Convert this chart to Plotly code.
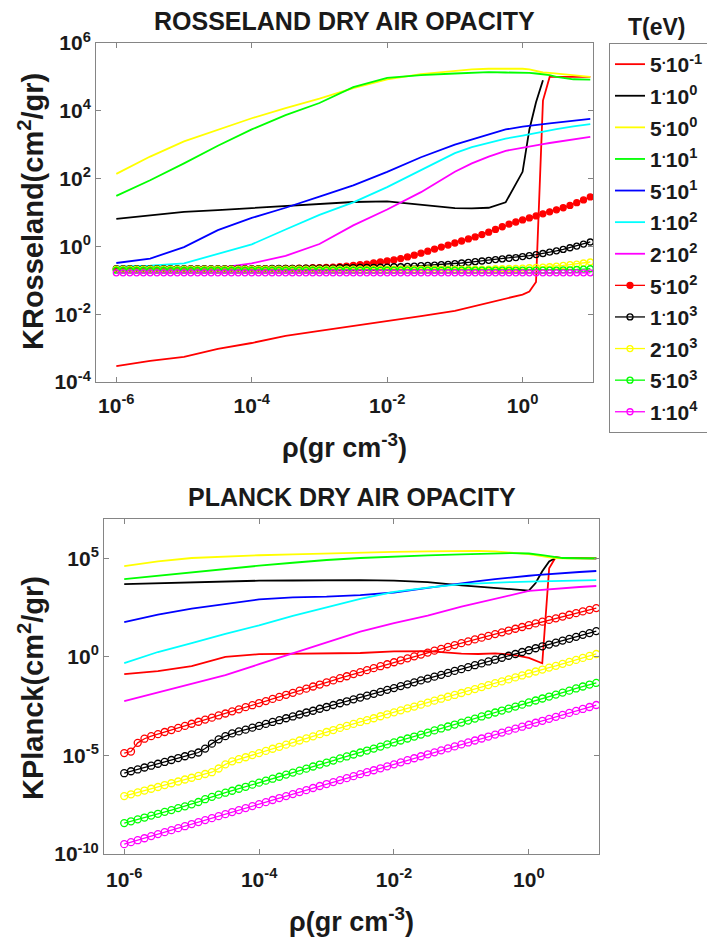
import numpy as np
import plotly.graph_objects as go

# ---------------------------------------------------------------------------
# Density grids (g/cm^3)
# ---------------------------------------------------------------------------
rho = np.logspace(-6, 1, 71)          # tabulated grid used for the high-T series
rho_line = [1e-6, 3.16e-6, 1e-5, 3.16e-5, 1e-4, 3.16e-4, 1e-3, 3.16e-3,
            1e-2, 3.16e-2, 0.1, 0.178, 0.316, 0.562, 1.0, 1.26, 1.58,
            2.0, 2.51, 3.16, 5.62, 10.0]

# Temperature labels, colours
temps_line = ["5<sup>.</sup>10<sup>-1</sup>", "1<sup>.</sup>10<sup>0</sup>",
              "5<sup>.</sup>10<sup>0</sup>", "1<sup>.</sup>10<sup>1</sup>",
              "5<sup>.</sup>10<sup>1</sup>", "1<sup>.</sup>10<sup>2</sup>",
              "2<sup>.</sup>10<sup>2</sup>"]
temps_mark = ["5<sup>.</sup>10<sup>2</sup>", "1<sup>.</sup>10<sup>3</sup>",
              "2<sup>.</sup>10<sup>3</sup>", "5<sup>.</sup>10<sup>3</sup>",
              "1<sup>.</sup>10<sup>4</sup>"]
colors_line = ["#ff0000", "#000000", "#ffff00", "#00ff00", "#0000ff", "#00ffff", "#ff00ff"]
colors_mark = ["#ff0000", "#000000", "#ffff00", "#00ff00", "#ff00ff"]

# ---------------------------------------------------------------------------
# Rosseland mean opacity, log10(cm^2/g)
# ---------------------------------------------------------------------------
ross_0p5 = [-3.53, -3.38, -3.26, -3.02, -2.85, -2.64, -2.49, -2.35, -2.22, -2.06, -1.90,
            -1.78, -1.66, -1.53, -1.42, -1.33, -1.05, 4.30, 5.00, 5.00, 5.00, 5.00]
ross_1 = [0.81, 0.92, 1.02, 1.07, 1.13, 1.20, 1.26, 1.31, 1.33, 1.22, 1.13,
          1.12, 1.14, 1.30, 2.20, 3.45, 4.25, 4.90, None, None, None, None]
ross_5 = [2.14, 2.65, 3.10, 3.45, 3.78, 4.08, 4.36, 4.67, 4.93, 5.08, 5.18,
          5.22, 5.24, 5.25, 5.24, 5.22, 5.17, 5.13, 5.12, 5.10, 5.05, 5.00]
ross_10 = [1.49, 1.95, 2.45, 2.97, 3.45, 3.87, 4.23, 4.70, 4.97, 5.05, 5.10,
           5.12, 5.14, 5.13, 5.13, 5.12, 5.10, 5.08, 5.05, 5.00, 4.93, 4.92]
ross_50 = [-0.49, -0.36, -0.02, 0.48, 0.84, 1.14, 1.47, 1.80, 2.20, 2.63, 3.00,
           3.15, 3.30, 3.45, 3.53, 3.56, 3.59, 3.61, 3.63, 3.65, 3.71, 3.76]
ross_100 = [-0.60, -0.57, -0.50, -0.22, 0.06, 0.50, 0.93, 1.30, 1.75, 2.25, 2.75,
            2.93, 3.05, 3.18, 3.27, 3.31, 3.36, 3.40, 3.43, 3.46, 3.54, 3.61]
ross_200 = [-0.73, -0.72, -0.69, -0.64, -0.50, -0.28, 0.07, 0.62, 1.09, 1.60, 2.20,
            2.45, 2.65, 2.82, 2.92, 2.95, 2.99, 3.02, 3.05, 3.08, 3.16, 3.23]

ross_500 = [-0.68, -0.68, -0.68, -0.68, -0.68, -0.68, -0.68, -0.68, -0.68, -0.68, -0.68,
            -0.67, -0.67, -0.67, -0.67, -0.67, -0.67, -0.67, -0.67, -0.67, -0.67,
            -0.67, -0.66, -0.66, -0.66, -0.65, -0.65, -0.64, -0.64, -0.63, -0.63,
            -0.62, -0.61, -0.60, -0.58, -0.56, -0.54, -0.52, -0.49, -0.46, -0.43,
            -0.40, -0.36, -0.31, -0.26, -0.20, -0.14, -0.08, -0.02, 0.04, 0.10,
            0.16, 0.22, 0.28, 0.35, 0.42, 0.50, 0.58, 0.66, 0.72, 0.78,
            0.84, 0.90, 0.96, 1.02, 1.08, 1.14, 1.21, 1.29, 1.37, 1.46]
ross_1000 = [-0.66, -0.66, -0.66, -0.66, -0.66, -0.66, -0.66, -0.66, -0.66, -0.66, -0.66,
             -0.66, -0.66, -0.66, -0.66, -0.66, -0.66, -0.66, -0.66, -0.66, -0.66,
             -0.66, -0.66, -0.65, -0.65, -0.65, -0.65, -0.65, -0.64, -0.64, -0.64,
             -0.64, -0.64, -0.63, -0.63, -0.63, -0.62, -0.62, -0.62, -0.61, -0.61,
             -0.60, -0.60, -0.59, -0.58, -0.57, -0.56, -0.55, -0.54, -0.53, -0.51,
             -0.49, -0.47, -0.45, -0.43, -0.41, -0.39, -0.37, -0.35, -0.33, -0.30,
             -0.27, -0.24, -0.21, -0.17, -0.13, -0.09, -0.04, 0.01, 0.07, 0.13]
ross_2000 = [-0.67, -0.67, -0.67, -0.67, -0.67, -0.67, -0.67, -0.67, -0.67, -0.67, -0.67,
             -0.67, -0.67, -0.67, -0.67, -0.67, -0.67, -0.67, -0.67, -0.67, -0.67,
             -0.67, -0.67, -0.67, -0.67, -0.67, -0.67, -0.67, -0.67, -0.67, -0.67,
             -0.67, -0.67, -0.67, -0.67, -0.67, -0.67, -0.67, -0.67, -0.67, -0.67,
             -0.67, -0.67, -0.67, -0.67, -0.67, -0.67, -0.67, -0.67, -0.67, -0.67,
             -0.67, -0.67, -0.67, -0.67, -0.67, -0.66, -0.66, -0.65, -0.65, -0.64,
             -0.63, -0.62, -0.61, -0.60, -0.58, -0.56, -0.54, -0.52, -0.49, -0.46]
ross_5000 = [-0.70, -0.70, -0.70, -0.70, -0.70, -0.70, -0.70, -0.70, -0.70, -0.70, -0.70,
             -0.70, -0.70, -0.70, -0.70, -0.70, -0.70, -0.70, -0.70, -0.70, -0.70,
             -0.70, -0.70, -0.70, -0.70, -0.70, -0.70, -0.70, -0.70, -0.70, -0.70,
             -0.70, -0.70, -0.70, -0.70, -0.70, -0.70, -0.70, -0.70, -0.70, -0.70,
             -0.70, -0.70, -0.70, -0.70, -0.70, -0.70, -0.70, -0.70, -0.70, -0.70,
             -0.70, -0.70, -0.70, -0.70, -0.70, -0.70, -0.70, -0.70, -0.70, -0.70,
             -0.70, -0.70, -0.70, -0.70, -0.70, -0.69, -0.69, -0.68, -0.67, -0.66]
ross_10000 = [-0.78, -0.78, -0.78, -0.78, -0.78, -0.78, -0.78, -0.78, -0.78, -0.78, -0.78,
              -0.78, -0.78, -0.78, -0.78, -0.78, -0.78, -0.78, -0.78, -0.78, -0.78,
              -0.78, -0.78, -0.78, -0.78, -0.78, -0.78, -0.78, -0.78, -0.78, -0.78,
              -0.78, -0.78, -0.78, -0.78, -0.78, -0.78, -0.78, -0.78, -0.78, -0.78,
              -0.78, -0.78, -0.78, -0.78, -0.78, -0.78, -0.78, -0.78, -0.78, -0.78,
              -0.78, -0.78, -0.78, -0.78, -0.78, -0.78, -0.78, -0.78, -0.78, -0.78,
              -0.78, -0.78, -0.78, -0.78, -0.78, -0.78, -0.78, -0.78, -0.78, -0.78]

# ---------------------------------------------------------------------------
# Planck mean opacity, log10(cm^2/g)
# ---------------------------------------------------------------------------
planck_0p5 = [-0.87, -0.72, -0.47, 0.00, 0.14, 0.17, 0.19, 0.20, 0.28, 0.30, 0.17,
              0.15, 0.18, 0.12, -0.05, -0.17, -0.32, 4.50, 5.07, 5.02, 5.00, 5.00]
planck_1 = [3.70, 3.75, 3.80, 3.85, 3.87, 3.88, 3.89, 3.90, 3.87, 3.80, 3.63,
            3.56, 3.48, 3.41, 3.37, 3.75, 4.35, 4.85, 5.03, 5.03, 5.00, 5.00]
planck_5 = [4.61, 4.85, 5.02, 5.10, 5.16, 5.20, 5.25, 5.30, 5.33, 5.36, 5.38,
            5.38, 5.36, 5.30, 5.22, 5.17, 5.10, 5.05, 5.02, 5.00, 5.00, 5.00]
planck_10 = [3.95, 4.12, 4.30, 4.48, 4.63, 4.78, 4.92, 5.02, 5.10, 5.15, 5.20,
             5.23, 5.26, 5.27, 5.25, 5.22, 5.17, 5.12, 5.06, 5.02, 5.00, 5.00]
planck_50 = [1.77, 2.15, 2.45, 2.70, 2.92, 3.02, 3.06, 3.14, 3.27, 3.50, 3.75,
             3.85, 3.95, 4.05, 4.12, 4.15, 4.18, 4.20, 4.23, 4.25, 4.31, 4.36]
planck_100 = [-0.31, 0.25, 0.70, 1.17, 1.60, 2.08, 2.52, 2.95, 3.30, 3.52, 3.70,
              3.74, 3.78, 3.80, 3.82, 3.83, 3.84, 3.85, 3.86, 3.87, 3.88, 3.90]
planck_200 = [-2.24, -1.80, -1.35, -0.92, -0.37, 0.18, 0.73, 1.28, 1.72, 2.10, 2.55,
              2.75, 2.95, 3.15, 3.35, 3.38, 3.41, 3.44, 3.47, 3.50, 3.55, 3.60]

planck_500 = [-4.88, -4.80, -4.36, -4.15, -4.02, -3.92, -3.81, -3.71, -3.60, -3.50, -3.39,
              -3.29, -3.18, -3.08, -2.97, -2.87, -2.76, -2.66, -2.55, -2.45, -2.34,
              -2.24, -2.13, -2.03, -1.92, -1.82, -1.71, -1.61, -1.50, -1.40, -1.29,
              -1.19, -1.08, -0.98, -0.87, -0.77, -0.67, -0.57, -0.47, -0.37, -0.27,
              -0.17, -0.07, 0.03, 0.12, 0.22, 0.32, 0.41, 0.51, 0.60, 0.70,
              0.79, 0.89, 0.98, 1.07, 1.16, 1.25, 1.34, 1.43, 1.52, 1.61,
              1.70, 1.79, 1.88, 1.96, 2.05, 2.14, 2.22, 2.31, 2.39, 2.48]
planck_1000 = [-5.90, -5.80, -5.71, -5.61, -5.52, -5.42, -5.33, -5.23, -5.13, -5.04, -4.94,
               -4.85, -4.65, -4.40, -4.18, -4.02, -3.88, -3.78, -3.69, -3.59, -3.50,
               -3.40, -3.30, -3.21, -3.11, -3.02, -2.92, -2.82, -2.73, -2.63, -2.54,
               -2.44, -2.35, -2.25, -2.15, -2.06, -1.96, -1.87, -1.77, -1.67, -1.58,
               -1.48, -1.39, -1.29, -1.19, -1.10, -1.00, -0.91, -0.81, -0.71, -0.62,
               -0.52, -0.42, -0.33, -0.23, -0.14, -0.04, 0.06, 0.15, 0.25, 0.34,
               0.44, 0.54, 0.63, 0.73, 0.83, 0.92, 1.02, 1.12, 1.21, 1.31]
planck_2000 = [-7.06, -6.97, -6.87, -6.78, -6.69, -6.60, -6.50, -6.41, -6.32, -6.22, -6.13,
               -6.04, -5.94, -5.85, -5.66, -5.45, -5.30, -5.19, -5.09, -4.98, -4.88,
               -4.77, -4.66, -4.56, -4.45, -4.35, -4.24, -4.13, -4.03, -3.92, -3.81,
               -3.71, -3.60, -3.50, -3.40, -3.30, -3.21, -3.11, -3.01, -2.91, -2.81,
               -2.71, -2.61, -2.52, -2.42, -2.32, -2.22, -2.12, -2.02, -1.93, -1.83,
               -1.73, -1.63, -1.53, -1.43, -1.33, -1.24, -1.14, -1.04, -0.94, -0.84,
               -0.74, -0.64, -0.54, -0.45, -0.35, -0.25, -0.15, -0.05, 0.05, 0.15]
planck_5000 = [-8.43, -8.34, -8.24, -8.15, -8.05, -7.96, -7.86, -7.77, -7.67, -7.58, -7.48,
               -7.36, -7.22, -7.10, -6.99, -6.89, -6.79, -6.69, -6.59, -6.48, -6.38,
               -6.28, -6.18, -6.08, -5.97, -5.87, -5.77, -5.67, -5.56, -5.46, -5.36,
               -5.26, -5.15, -5.05, -4.95, -4.85, -4.75, -4.65, -4.55, -4.44, -4.34,
               -4.24, -4.14, -4.04, -3.94, -3.84, -3.73, -3.63, -3.53, -3.43, -3.33,
               -3.23, -3.13, -3.02, -2.92, -2.82, -2.72, -2.62, -2.52, -2.42, -2.31,
               -2.21, -2.11, -2.01, -1.91, -1.81, -1.71, -1.60, -1.50, -1.40, -1.32]
planck_10000 = [-9.50, -9.40, -9.30, -9.20, -9.09, -8.99, -8.89, -8.79, -8.69, -8.59, -8.48,
                -8.38, -8.28, -8.18, -8.08, -7.98, -7.87, -7.77, -7.67, -7.57, -7.47,
                -7.37, -7.26, -7.16, -7.06, -6.96, -6.86, -6.76, -6.65, -6.55, -6.45,
                -6.35, -6.25, -6.15, -6.05, -5.95, -5.85, -5.75, -5.65, -5.55, -5.45,
                -5.35, -5.24, -5.14, -5.04, -4.94, -4.84, -4.74, -4.64, -4.54, -4.44,
                -4.34, -4.24, -4.14, -4.04, -3.94, -3.84, -3.74, -3.64, -3.54, -3.44,
                -3.34, -3.24, -3.14, -3.04, -2.94, -2.84, -2.74, -2.64, -2.54, -2.44]

ross_lines = [ross_0p5, ross_1, ross_5, ross_10, ross_50, ross_100, ross_200]
ross_marks = [ross_500, ross_1000, ross_2000, ross_5000, ross_10000]
planck_lines = [planck_0p5, planck_1, planck_5, planck_10, planck_50, planck_100, planck_200]
planck_marks = [planck_500, planck_1000, planck_2000, planck_5000, planck_10000]

x_tickvals = [1e-6, 1e-4, 1e-2, 1]
x_ticktext = ["10<sup>-6</sup>", "10<sup>-4</sup>", "10<sup>-2</sup>", "10<sup>0</sup>"]
y1_tickvals = [1e-4, 1e-2, 1, 1e2, 1e4, 1e6]
y1_ticktext = ["10<sup>-4</sup>", "10<sup>-2</sup>", "10<sup>0</sup>",
               "10<sup>2</sup>", "10<sup>4</sup>", "10<sup>6</sup>"]
y2_tickvals = [1e-10, 1e-5, 1, 1e5]
y2_ticktext = ["10<sup>-10</sup>", "10<sup>-5</sup>", "10<sup>0</sup>", "10<sup>5</sup>"]


def pow10(values):
    return [None if v is None else 10.0 ** v for v in values]


W, H = 707, 938
FONT = "Liberation Sans, Arial, sans-serif"
INK = "#1a1a1a"

fig = go.Figure()

# Rosseland panel: legend entries come from here
for name, col, vals in zip(temps_line, colors_line, ross_lines):
    fig.add_trace(go.Scatter(x=rho_line, y=pow10(vals), mode="lines", name=name,
                             legendgroup=name, line=dict(color=col, width=1.8),
                             xaxis="x", yaxis="y"))
for k, (name, col, vals) in enumerate(zip(temps_mark, colors_mark, ross_marks)):
    filled = k == 0
    fig.add_trace(go.Scatter(
        x=rho, y=pow10(vals), mode="lines+markers", name=name, legendgroup=name,
        line=dict(color=col, width=1.3),
        marker=dict(symbol="circle" if filled else "circle-open", size=6,
                    color=col, line=dict(color=col, width=1.3)),
        xaxis="x", yaxis="y"))

# Planck panel
for name, col, vals in zip(temps_line, colors_line, planck_lines):
    fig.add_trace(go.Scatter(x=rho_line, y=pow10(vals), mode="lines", name=name,
                             legendgroup=name, showlegend=False,
                             line=dict(color=col, width=1.8), xaxis="x2", yaxis="y2"))
for name, col, vals in zip(temps_mark, colors_mark, planck_marks):
    fig.add_trace(go.Scatter(
        x=rho, y=pow10(vals), mode="lines+markers", name=name, legendgroup=name,
        showlegend=False, line=dict(color=col, width=1.3),
        marker=dict(symbol="circle-open", size=7, color=col, line=dict(color=col, width=1.3)),
        xaxis="x2", yaxis="y2"))

axis_common = dict(type="log", showgrid=False, zeroline=False, showline=True,
                   linecolor="#858585", linewidth=1, mirror="ticks", ticks="inside",
                   ticklen=5, tickcolor="#858585", tickwidth=1, automargin=False,
                   tickfont=dict(family=FONT, size=21, color=INK, weight="bold"))

fig.update_layout(
    width=W, height=H, margin=dict(l=0, r=0, t=0, b=0, autoexpand=False),
    paper_bgcolor="white", plot_bgcolor="white",
    font=dict(family=FONT, color=INK, weight="bold"),
    xaxis=dict(axis_common, domain=[96 / W, 593 / W], anchor="y", range=[-6.3, 1.04],
               tickvals=x_tickvals, ticktext=x_ticktext, ticklabelstandoff=5),
    yaxis=dict(axis_common, domain=[1 - 382 / H, 1 - 43 / H], anchor="x", range=[-4, 6],
               tickvals=y1_tickvals, ticktext=y1_ticktext),
    xaxis2=dict(axis_common, domain=[104 / W, 599 / W], anchor="y2", range=[-6.3, 1.04],
                tickvals=x_tickvals, ticktext=x_ticktext, ticklabelstandoff=7),
    yaxis2=dict(axis_common, domain=[1 - 854 / H, 1 - 519 / H], anchor="x2", range=[-10, 7],
                tickvals=y2_tickvals, ticktext=y2_ticktext),
    legend=dict(x=609 / W, y=1 - 43 / H, xanchor="left", yanchor="top",
                bgcolor="white", bordercolor="#858585", borderwidth=1,
                font=dict(family=FONT, size=21, color=INK, weight="bold"),
                tracegroupgap=1.3, itemwidth=30),
    showlegend=True,
)

annotations = [
    dict(text="ROSSELAND DRY AIR OPACITY", x=344.5 / W, y=1 - 21.5 / H, size=25, angle=0),
    dict(text="PLANCK DRY AIR OPACITY", x=351.5 / W, y=1 - 497 / H, size=25, angle=0),
    dict(text="T(eV)", x=657 / W, y=1 - 27 / H, size=23, angle=0),
    dict(text="\u03c1(gr cm<sup>-3</sup>)", x=344.5 / W, y=1 - 446 / H, size=27, angle=0),
    dict(text="\u03c1(gr cm<sup>-3</sup>)", x=351.5 / W, y=1 - 920 / H, size=27, angle=0),
    dict(text="KRosseland(cm<sup>2</sup>/gr)", x=31 / W, y=1 - 212 / H, size=29, angle=-90),
    dict(text="KPlanck(cm<sup>2</sup>/gr)", x=31 / W, y=1 - 688 / H, size=29, angle=-90),
]
for a in annotations:
    fig.add_annotation(text=a["text"], x=a["x"], y=a["y"], xref="paper", yref="paper",
                       xanchor="center", yanchor="middle", showarrow=False,
                       textangle=a["angle"],
                       font=dict(family=FONT, size=a["size"], color=INK, weight="bold"))

fig.write_html("out.html")
